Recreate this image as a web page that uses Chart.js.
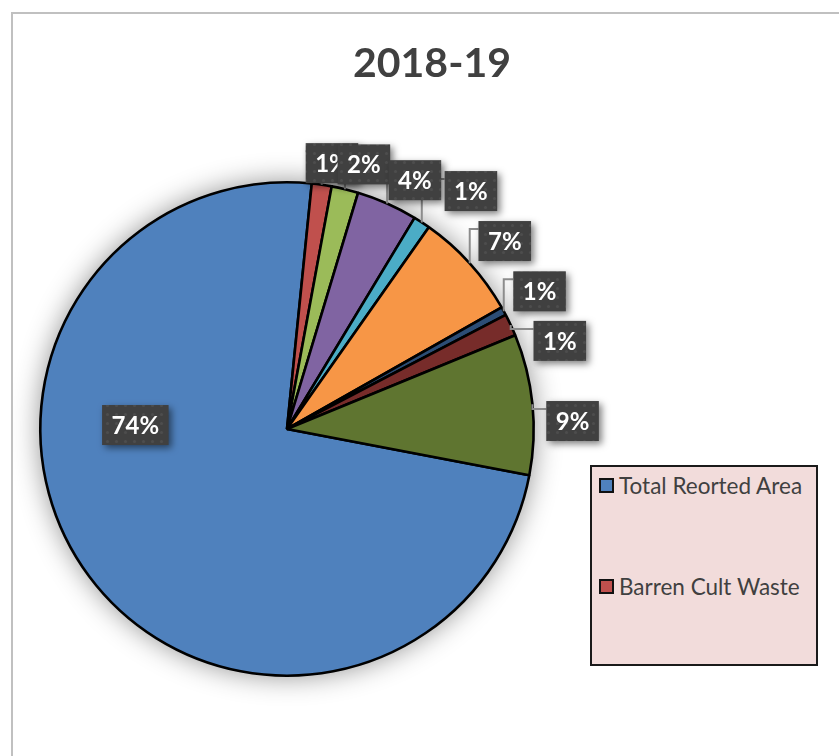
<!DOCTYPE html>
<html>
<head>
<meta charset="utf-8">
<script src="https://cdn.jsdelivr.net/npm/chart.js@4"></script>
<style>
    body { margin: 0; background: #fff; overflow: hidden; }
    #frame {
        position: absolute; left: 11px; top: 12px;
        width: 840px; height: 760px;
        border-left: 2px solid #c0c0c0; border-top: 2px solid #c0c0c0;
    }
    #legend {
        position: absolute; left: 590px; top: 465px;
        width: 224px; height: 197px;
        background: #f2dcdb; border: 2px solid #1a1a1a;
        font-family: Lato, "Open Sans", sans-serif; font-size: 22.5px; color: #404040;
    }
    .item { position: absolute; left: 7px; display: flex; align-items: center; white-space: nowrap; }
    .swatch { width: 11px; height: 11px; border: 2px solid #111; margin-right: 5px; }
</style>
</head>
<body>
<div id="frame"><canvas id="pie" width="840" height="760"></canvas></div>
<div id="legend"></div>
<script>
// data
const titleText = '2018-19';
const categories = ['Total Reorted Area', 'Barren Cult Waste', 'Forest Area', 'Not Available for Cultivation',
    'Culturable Waste', 'Current Fallow', 'Other Fallow', 'Area Under Orchards', 'Net Area Sown'];
const shares = [73.6, 1.3, 1.75, 4.0, 1.1, 7.05, 0.55, 1.45, 9.2];
const colors = ['#4F81BD', '#C0504D', '#9BBB59', '#8064A2', '#4BACC6', '#F79646', '#2C4D75', '#772C2A', '#5F7530'];
const legendShown = 2;   // the legend box only has room for the first two entries

// where each percentage box sits: angle (deg clockwise from top) and distance as a share of the radius
const labelAngle = [271.5, 9.6, 16.2, 27.2, 37.7, 49.2, 61.4, 72.1, 88.4];
const labelDist = [0.615, 1.093, 1.117, 1.134, 1.219, 1.166, 1.166, 1.162, 1.158];

// dotted fill for the label boxes
function makePattern(ctx) {
    const c = document.createElement('canvas');
    c.width = 9; c.height = 9;
    const p = c.getContext('2d');
    p.fillStyle = '#404040';
    p.fillRect(0, 0, 9, 9);
    p.fillStyle = 'rgba(255,255,255,0.07)';
    p.beginPath();
    p.arc(4.5, 4.5, 1.6, 0, Math.PI * 2);
    p.fill();
    return ctx.createPattern(c, 'repeat');
}

const piePlugin = {
    id: 'excelPie',
    beforeDatasetsDraw(chart) {
        const ctx = chart.ctx;
        const arc = chart.getDatasetMeta(0).data[0];
        // soft shadow behind the pie
        ctx.save();
        ctx.shadowColor = 'rgba(0,0,0,0.45)';
        ctx.shadowBlur = 28;
        ctx.fillStyle = '#fff';
        ctx.beginPath();
        ctx.arc(arc.x, arc.y, arc.outerRadius, 0, Math.PI * 2);
        ctx.fill();
        ctx.restore();
    },
    afterDatasetsDraw(chart) {
        const ctx = chart.ctx;
        const arcs = chart.getDatasetMeta(0).data;
        const total = shares.reduce((a, b) => a + b, 0);
        const cx = arcs[0].x, cy = arcs[0].y, r = arcs[0].outerRadius;

        ctx.save();
        ctx.font = 'bold 24px Lato, "Open Sans", sans-serif';
        const boxes = arcs.map((a, i) => {
            const text = Math.round(shares[i] / total * 100) + '%';
            const w = ctx.measureText(text).width + 19;
            const h = 40;
            const ang = labelAngle[i] * Math.PI / 180;
            const bx = cx + Math.sin(ang) * r * labelDist[i];
            const by = cy - Math.cos(ang) * r * labelDist[i];
            const mid = (a.startAngle + a.endAngle) / 2;
            return {text, w, h, left: bx - w / 2, top: by - h / 2, x: bx, y: by,
                ax: cx + Math.cos(mid) * r, ay: cy + Math.sin(mid) * r, outside: labelDist[i] > 1};
        });

        // leader lines
        ctx.strokeStyle = '#8c8c8c';
        ctx.lineWidth = 2;
        boxes.forEach(b => {
            if (!b.outside) return;
            ctx.beginPath();
            ctx.moveTo(b.ax, b.ay);
            ctx.lineTo(b.ax, b.top + 8);
            ctx.lineTo(b.left, b.top + 8);
            ctx.stroke();
        });

        // label boxes
        const pattern = makePattern(ctx);
        boxes.forEach(b => {
            ctx.save();
            ctx.shadowColor = 'rgba(0,0,0,0.5)';
            ctx.shadowBlur = 7;
            ctx.shadowOffsetX = 3;
            ctx.shadowOffsetY = 3;
            ctx.fillStyle = pattern;
            ctx.fillRect(b.left, b.top, b.w, b.h);
            ctx.restore();
            ctx.fillStyle = '#fff';
            ctx.textAlign = 'center';
            ctx.textBaseline = 'middle';
            ctx.fillText(b.text, b.x, b.y + 1);
        });

        // chart title
        ctx.fillStyle = '#404040';
        ctx.font = 'bold 41px Lato, "Open Sans", sans-serif';
        ctx.textAlign = 'center';
        ctx.textBaseline = 'alphabetic';
        ctx.fillText(titleText, 419, 63);
        ctx.restore();
    }
};

new Chart(document.getElementById('pie'), {
    type: 'pie',
    data: {
        labels: categories,
        datasets: [{
            data: shares,
            backgroundColor: colors,
            borderColor: '#000',
            borderWidth: 2.6
        }]
    },
    options: {
        responsive: false,
        animation: false,
        rotation: 100.8,
        layout: { padding: { left: 26, right: 318, top: 167, bottom: 97 } },
        plugins: {
            legend: { display: false },
            title: { display: false },
            tooltip: { enabled: false }
        }
    },
    plugins: [piePlugin]
});

// legend box (only the entries that fit)
const legend = document.getElementById('legend');
const rowTops = [5, 106];
categories.slice(0, legendShown).forEach((name, i) => {
    const row = document.createElement('div');
    row.className = 'item';
    row.style.top = rowTops[i] + 'px';
    row.innerHTML = '<span class="swatch" style="background:' + colors[i] + '"></span>' + name;
    legend.appendChild(row);
});
</script>
</body>
</html>
